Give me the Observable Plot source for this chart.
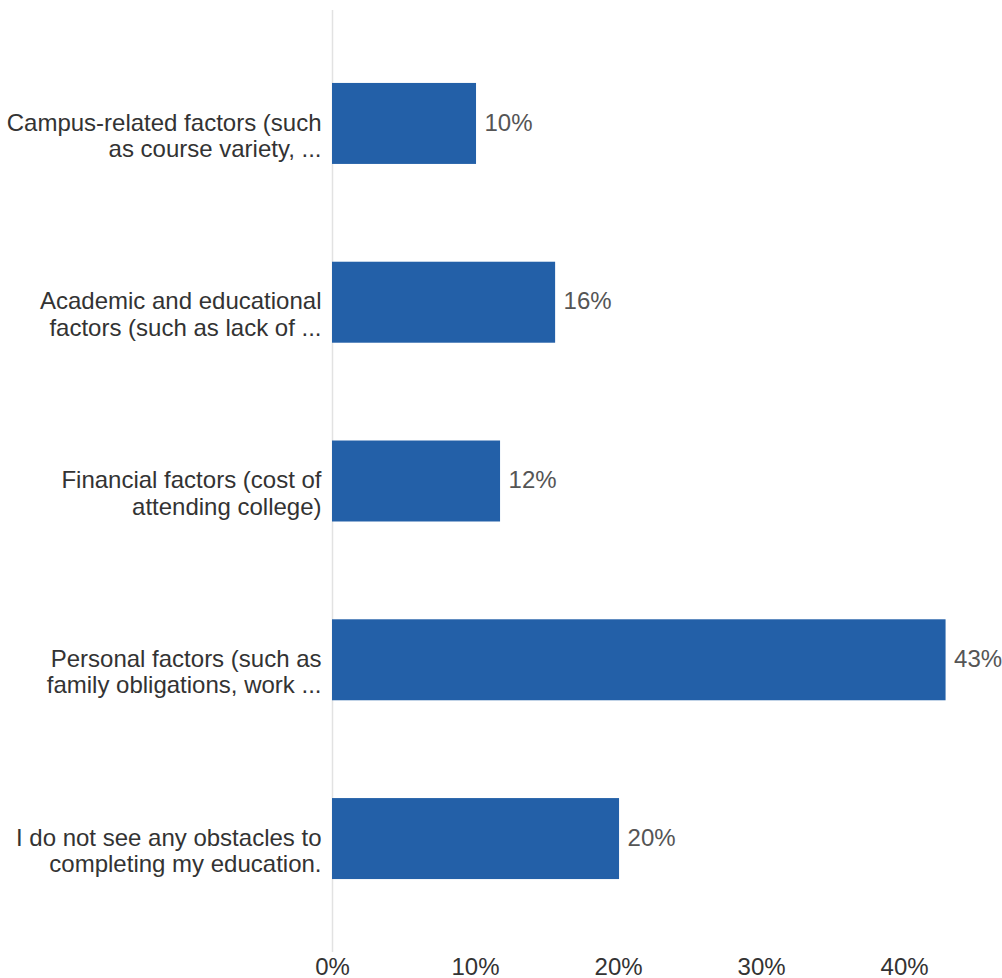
<!DOCTYPE html>
<html>
<head>
<meta charset="utf-8">
<script src="https://cdn.jsdelivr.net/npm/d3@7"></script>
<script src="https://cdn.jsdelivr.net/npm/@observablehq/plot@0.6"></script>
<style>
  html, body { margin: 0; padding: 0; background: #fff; }
  svg { display: block; }
</style>
</head>
<body>
<div id="chart"></div>
<script>
const categories = [
  "Campus-related factors (such\nas course variety, ...",
  "Academic and educational\nfactors (such as lack of ...",
  "Financial factors (cost of\nattending college)",
  "Personal factors (such as\nfamily obligations, work ...",
  "I do not see any obstacles to\ncompleting my education."
];
const values = [0.1007, 0.156, 0.1175, 0.429, 0.2007];
const valueLabels = ["10%", "16%", "12%", "43%", "20%"];
const xTicks = [0, 0.1, 0.2, 0.3, 0.4];
const xTickLabels = ["0%", "10%", "20%", "30%", "40%"];

const data = categories.map((c, i) => ({cat: c, value: values[i], label: valueLabels[i]}));

const chart = Plot.plot({
  width: 1002,
  height: 978,
  marginLeft: 332,
  marginRight: 55,
  marginTop: 10,
  marginBottom: 26,
  style: {fontFamily: "'Liberation Sans', Arial, sans-serif", fontSize: "24px", color: "#333", background: "#fff", overflow: "visible"},
  x: {domain: [0, 0.43], axis: null, label: null},
  y: {domain: categories, paddingInner: 0.547, paddingOuter: 0.408, round: false, axis: null, label: null},
  marks: [
    Plot.ruleX([0], {stroke: "#e2e2e2", strokeWidth: 1.5}),
    Plot.barX(data, {x: "value", y: "cat", fill: "#2360a8"}),
    Plot.text(data, {x: "value", y: "cat", text: "label", textAnchor: "start", dx: 8, dy: -1, fill: "#555", fontSize: 24}),
    Plot.axisY({tickSize: 0, tickPadding: 11, fontSize: 24, lineHeight: 1.1, dy: 11.5, fill: "#333", label: null}),
    Plot.axisX(xTicks, {tickSize: 0, tickPadding: 5, fontSize: 24, fill: "#333", label: null,
      tickFormat: (d) => xTickLabels[xTicks.indexOf(d)]})
  ]
});
document.getElementById("chart").appendChild(chart);
</script>
</body>
</html>
